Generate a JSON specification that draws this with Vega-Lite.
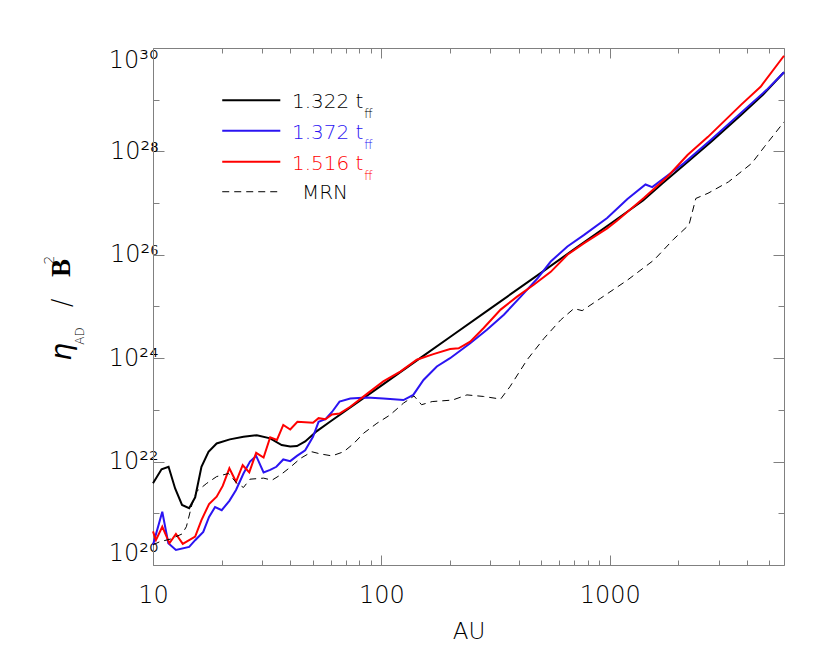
{
  "$schema": "https://vega.github.io/schema/vega-lite/v6.json",
  "width": 631,
  "height": 517,
  "autosize": {"type": "none"},
  "padding": {"left": 153, "top": 48, "right": 46, "bottom": 99},
  "background": "white",
  "config": {
    "view": {"stroke": null},
    "axis": {
      "domainColor": "#808080",
      "tickColor": "#808080",
      "grid": false,
      "labelFont": "DejaVu Sans",
      "labelFontWeight": 200,
      "labelColor": "#000000",
      "titleFont": "DejaVu Sans",
      "titleFontWeight": 200,
      "titleColor": "#000000"
    },
    "text": {"font": "DejaVu Sans", "fontWeight": 200}
  },
  "datasets": {
    "curves": [
      {"s": "1.322", "r": 10, "v": 3.8e21},
      {"s": "1.322", "r": 10.9, "v": 7.08e21},
      {"s": "1.322", "r": 11.7, "v": 7.94e21},
      {"s": "1.322", "r": 12.5, "v": 3.02e21},
      {"s": "1.322", "r": 13.4, "v": 1.45e21},
      {"s": "1.322", "r": 14.4, "v": 1.26e21},
      {"s": "1.322", "r": 15.3, "v": 2.04e21},
      {"s": "1.322", "r": 16.3, "v": 7.94e21},
      {"s": "1.322", "r": 17.5, "v": 1.55e22},
      {"s": "1.322", "r": 19.0, "v": 2.24e22},
      {"s": "1.322", "r": 21.7, "v": 2.69e22},
      {"s": "1.322", "r": 24.9, "v": 3.02e22},
      {"s": "1.322", "r": 28.5, "v": 3.24e22},
      {"s": "1.322", "r": 32.6, "v": 2.82e22},
      {"s": "1.322", "r": 36.6, "v": 2.09e22},
      {"s": "1.322", "r": 39.9, "v": 1.95e22},
      {"s": "1.322", "r": 42.7, "v": 2.0e22},
      {"s": "1.322", "r": 46.4, "v": 2.45e22},
      {"s": "1.322", "r": 52.2, "v": 3.89e22},
      {"s": "1.322", "r": 60, "v": 6.03e22},
      {"s": "1.322", "r": 80, "v": 1.48e23},
      {"s": "1.322", "r": 100, "v": 2.95e23},
      {"s": "1.322", "r": 150, "v": 1.05e24},
      {"s": "1.322", "r": 200, "v": 2.57e24},
      {"s": "1.322", "r": 300, "v": 9.12e24},
      {"s": "1.322", "r": 500, "v": 4.47e25},
      {"s": "1.322", "r": 700, "v": 1.29e26},
      {"s": "1.322", "r": 1000, "v": 3.89e26},
      {"s": "1.322", "r": 1400, "v": 1.12e27},
      {"s": "1.322", "r": 1700, "v": 2.4e27},
      {"s": "1.322", "r": 2200, "v": 6.31e27},
      {"s": "1.322", "r": 2800, "v": 1.58e28},
      {"s": "1.322", "r": 3750, "v": 5.01e28},
      {"s": "1.322", "r": 4700, "v": 1.26e29},
      {"s": "1.322", "r": 5800, "v": 3.39e29},

      {"s": "1.372", "r": 10, "v": 2.45e20},
      {"s": "1.372", "r": 10.98, "v": 1.07e21},
      {"s": "1.372", "r": 11.67, "v": 2.63e20},
      {"s": "1.372", "r": 12.6, "v": 1.95e20},
      {"s": "1.372", "r": 14.4, "v": 2.24e20},
      {"s": "1.372", "r": 15.3, "v": 3.02e20},
      {"s": "1.372", "r": 16.6, "v": 4.37e20},
      {"s": "1.372", "r": 17.6, "v": 8.51e20},
      {"s": "1.372", "r": 18.7, "v": 1.32e21},
      {"s": "1.372", "r": 20.0, "v": 1.15e21},
      {"s": "1.372", "r": 21.6, "v": 1.74e21},
      {"s": "1.372", "r": 23.1, "v": 2.82e21},
      {"s": "1.372", "r": 24.9, "v": 5.89e21},
      {"s": "1.372", "r": 26.6, "v": 1.0e22},
      {"s": "1.372", "r": 28.3, "v": 1.29e22},
      {"s": "1.372", "r": 30.5, "v": 6.17e21},
      {"s": "1.372", "r": 32.6, "v": 6.92e21},
      {"s": "1.372", "r": 34.7, "v": 7.94e21},
      {"s": "1.372", "r": 37.2, "v": 1.1e22},
      {"s": "1.372", "r": 39.9, "v": 1.02e22},
      {"s": "1.372", "r": 42.7, "v": 1.29e22},
      {"s": "1.372", "r": 46.4, "v": 1.66e22},
      {"s": "1.372", "r": 50.2, "v": 3.02e22},
      {"s": "1.372", "r": 53.1, "v": 5.89e22},
      {"s": "1.372", "r": 56.9, "v": 6.61e22},
      {"s": "1.372", "r": 60.8, "v": 9.12e22},
      {"s": "1.372", "r": 65.6, "v": 1.45e23},
      {"s": "1.372", "r": 73.1, "v": 1.66e23},
      {"s": "1.372", "r": 86.5, "v": 1.74e23},
      {"s": "1.372", "r": 102, "v": 1.66e23},
      {"s": "1.372", "r": 125, "v": 1.55e23},
      {"s": "1.372", "r": 138, "v": 1.95e23},
      {"s": "1.372", "r": 153, "v": 3.8e23},
      {"s": "1.372", "r": 175, "v": 6.92e23},
      {"s": "1.372", "r": 200, "v": 1.0e24},
      {"s": "1.372", "r": 245, "v": 1.95e24},
      {"s": "1.372", "r": 290, "v": 3.55e24},
      {"s": "1.372", "r": 344, "v": 6.92e24},
      {"s": "1.372", "r": 408, "v": 1.55e25},
      {"s": "1.372", "r": 484, "v": 3.55e25},
      {"s": "1.372", "r": 552, "v": 7.41e25},
      {"s": "1.372", "r": 653, "v": 1.45e26},
      {"s": "1.372", "r": 770, "v": 2.4e26},
      {"s": "1.372", "r": 975, "v": 5.13e26},
      {"s": "1.372", "r": 1196, "v": 1.2e27},
      {"s": "1.372", "r": 1435, "v": 2.29e27},
      {"s": "1.372", "r": 1536, "v": 2.04e27},
      {"s": "1.372", "r": 1727, "v": 3.02e27},
      {"s": "1.372", "r": 2111, "v": 5.89e27},
      {"s": "1.372", "r": 2770, "v": 1.66e28},
      {"s": "1.372", "r": 3745, "v": 5.5e28},
      {"s": "1.372", "r": 4870, "v": 1.55e29},
      {"s": "1.372", "r": 5800, "v": 3.39e29},

      {"s": "1.516", "r": 10, "v": 4.47e20},
      {"s": "1.516", "r": 10.3, "v": 3.02e20},
      {"s": "1.516", "r": 10.98, "v": 5.5e20},
      {"s": "1.516", "r": 11.8, "v": 2.63e20},
      {"s": "1.516", "r": 12.6, "v": 3.98e20},
      {"s": "1.516", "r": 13.5, "v": 2.57e20},
      {"s": "1.516", "r": 15.3, "v": 3.55e20},
      {"s": "1.516", "r": 16.3, "v": 7.41e20},
      {"s": "1.516", "r": 17.6, "v": 1.51e21},
      {"s": "1.516", "r": 19.0, "v": 2.09e21},
      {"s": "1.516", "r": 20.2, "v": 3.39e21},
      {"s": "1.516", "r": 21.6, "v": 7.41e21},
      {"s": "1.516", "r": 23.1, "v": 4.07e21},
      {"s": "1.516", "r": 24.7, "v": 8.51e21},
      {"s": "1.516", "r": 26.4, "v": 6.17e21},
      {"s": "1.516", "r": 28.3, "v": 1.48e22},
      {"s": "1.516", "r": 30.5, "v": 1.2e22},
      {"s": "1.516", "r": 32.6, "v": 2.95e22},
      {"s": "1.516", "r": 34.9, "v": 2.63e22},
      {"s": "1.516", "r": 37.2, "v": 5.13e22},
      {"s": "1.516", "r": 39.9, "v": 4.17e22},
      {"s": "1.516", "r": 42.9, "v": 5.89e22},
      {"s": "1.516", "r": 50.2, "v": 5.62e22},
      {"s": "1.516", "r": 53.1, "v": 6.92e22},
      {"s": "1.516", "r": 56.9, "v": 6.61e22},
      {"s": "1.516", "r": 60.8, "v": 8.13e22},
      {"s": "1.516", "r": 65.6, "v": 8.51e22},
      {"s": "1.516", "r": 73.1, "v": 1.15e23},
      {"s": "1.516", "r": 86.5, "v": 2.04e23},
      {"s": "1.516", "r": 102, "v": 3.55e23},
      {"s": "1.516", "r": 121, "v": 5.5e23},
      {"s": "1.516", "r": 143, "v": 9.33e23},
      {"s": "1.516", "r": 169, "v": 1.2e24},
      {"s": "1.516", "r": 200, "v": 1.51e24},
      {"s": "1.516", "r": 218, "v": 1.55e24},
      {"s": "1.516", "r": 245, "v": 2.09e24},
      {"s": "1.516", "r": 280, "v": 3.8e24},
      {"s": "1.516", "r": 333, "v": 8.71e24},
      {"s": "1.516", "r": 393, "v": 1.55e25},
      {"s": "1.516", "r": 465, "v": 2.63e25},
      {"s": "1.516", "r": 552, "v": 4.68e25},
      {"s": "1.516", "r": 653, "v": 1.0e26},
      {"s": "1.516", "r": 770, "v": 1.66e26},
      {"s": "1.516", "r": 975, "v": 3.24e26},
      {"s": "1.516", "r": 1076, "v": 4.57e26},
      {"s": "1.516", "r": 1411, "v": 1.26e27},
      {"s": "1.516", "r": 1790, "v": 3.24e27},
      {"s": "1.516", "r": 2192, "v": 8.51e27},
      {"s": "1.516", "r": 2695, "v": 1.91e28},
      {"s": "1.516", "r": 3758, "v": 7.94e28},
      {"s": "1.516", "r": 4580, "v": 1.78e29},
      {"s": "1.516", "r": 5800, "v": 7.08e29}
    ],
    "mrn": [
      {"r": 10, "v": 2.45e20},
      {"r": 10.7, "v": 2.82e20},
      {"r": 11.9, "v": 3.16e20},
      {"r": 13.4, "v": 3.98e20},
      {"r": 14.0, "v": 5.5e20},
      {"r": 14.8, "v": 1.45e21},
      {"r": 15.5, "v": 2.63e21},
      {"r": 17.2, "v": 3.8e21},
      {"r": 19.0, "v": 5.13e21},
      {"r": 21.4, "v": 5.89e21},
      {"r": 23.3, "v": 3.8e21},
      {"r": 24.9, "v": 3.16e21},
      {"r": 26.6, "v": 4.57e21},
      {"r": 30.5, "v": 4.79e21},
      {"r": 33.2, "v": 4.37e21},
      {"r": 36.1, "v": 5.5e21},
      {"r": 39.9, "v": 7.76e21},
      {"r": 44.2, "v": 1.15e22},
      {"r": 49.6, "v": 1.55e22},
      {"r": 54.0, "v": 1.41e22},
      {"r": 60.8, "v": 1.29e22},
      {"r": 68.4, "v": 1.55e22},
      {"r": 75.7, "v": 2.24e22},
      {"r": 83.7, "v": 3.55e22},
      {"r": 95.6, "v": 5.5e22},
      {"r": 109, "v": 7.94e22},
      {"r": 125, "v": 1.35e23},
      {"r": 139, "v": 1.86e23},
      {"r": 150, "v": 1.26e23},
      {"r": 167, "v": 1.45e23},
      {"r": 205, "v": 1.55e23},
      {"r": 237, "v": 1.95e23},
      {"r": 280, "v": 1.82e23},
      {"r": 333, "v": 1.62e23},
      {"r": 366, "v": 2.82e23},
      {"r": 435, "v": 9.33e23},
      {"r": 515, "v": 2.4e24},
      {"r": 610, "v": 5.5e24},
      {"r": 697, "v": 9.12e24},
      {"r": 758, "v": 8.32e24},
      {"r": 914, "v": 1.45e25},
      {"r": 1196, "v": 3.24e25},
      {"r": 1564, "v": 7.94e25},
      {"r": 1905, "v": 2.0e26},
      {"r": 2226, "v": 3.8e26},
      {"r": 2384, "v": 1.23e27},
      {"r": 2695, "v": 1.55e27},
      {"r": 3313, "v": 2.57e27},
      {"r": 4190, "v": 5.89e27},
      {"r": 4760, "v": 1.23e28},
      {"r": 5800, "v": 3.72e28}
    ],
    "legend": [
      {"s": "1.322", "label": "1.322 t", "x1": 20.1, "x2": 36.1, "xt": 40.6, "xf": 84.1, "y": 9.8e28},
      {"s": "1.372", "label": "1.372 t", "x1": 20.1, "x2": 36.1, "xt": 40.6, "xf": 84.1, "y": 2.51e28},
      {"s": "1.516", "label": "1.516 t", "x1": 20.1, "x2": 36.1, "xt": 40.6, "xf": 84.1, "y": 6.31e27}
    ],
    "legendMrn": [
      {"s": "MRN", "label": "MRN", "x1": 20.1, "x2": 36.1, "xt": 44.9, "y": 1.66e27}
    ]
  },
  "resolve": {"axis": {"x": "independent", "y": "independent"}},
  "layer": [
    {
      "data": {"name": "curves"},
      "mark": {"type": "line", "strokeWidth": 2},
      "encoding": {
        "x": {"field": "r", "type": "quantitative",
          "scale": {"type": "log", "domain": [10, 5800], "nice": false},
          "axis": {"orient": "bottom", "values": [10, 100, 1000], "labelExpr": "format(datum.value, 'd')",
            "tickSize": -10, "labelPadding": 28, "labelFontSize": 24, "labelFlush": false,
            "title": "AU", "titleFontSize": 23, "titlePadding": 13}},
        "y": {"field": "v", "type": "quantitative",
          "scale": {"type": "log", "domain": [1e20, 1e30], "nice": false},
          "axis": {"orient": "left", "values": [1e20, 1e22, 1e24, 1e26, 1e28, 1e30],
            "labelExpr": "datum.value == 1e20 ? '10²⁰' : datum.value == 1e22 ? '10²²' : datum.value == 1e24 ? '10²⁴' : datum.value == 1e26 ? '10²⁶' : datum.value == 1e28 ? '10²⁸' : '10³⁰'",
            "tickSize": -11, "labelPadding": 6, "labelFontSize": 24, "labelFlush": true, "title": null}},
        "color": {"field": "s", "type": "nominal",
          "scale": {"domain": ["1.322", "1.372", "1.516", "MRN"], "range": ["#000000", "#2b14f2", "#ff0000", "#000000"]},
          "legend": null}
      }
    },
    {
      "data": {"name": "mrn"},
      "mark": {"type": "line", "strokeWidth": 1, "strokeDash": [7, 5], "color": "#000000"},
      "encoding": {
        "x": {"field": "r", "type": "quantitative",
          "scale": {"type": "log", "domain": [10, 5800], "nice": false},
          "axis": {"orient": "bottom", "values": [20, 30, 40, 50, 60, 70, 80, 90, 200, 300, 400, 500, 600, 700, 800, 900, 2000, 3000, 4000, 5000],
            "labels": false, "domain": false, "tickSize": -5, "title": null}},
        "y": {"field": "v", "type": "quantitative",
          "scale": {"type": "log", "domain": [1e20, 1e30], "nice": false},
          "axis": {"orient": "left", "values": [1e21, 1e23, 1e25, 1e27, 1e29],
            "labels": false, "domain": false, "tickSize": -6, "title": null}}
      }
    },
    {
      "data": {"name": "legend"},
      "mark": {"type": "rule", "strokeWidth": 2},
      "encoding": {
        "x": {"field": "x1", "type": "quantitative",
          "scale": {"type": "log", "domain": [10, 5800], "nice": false},
          "axis": {"orient": "top", "values": [10, 100, 1000], "labels": false, "tickSize": -10, "title": null}},
        "x2": {"field": "x2"},
        "y": {"field": "y", "type": "quantitative",
          "scale": {"type": "log", "domain": [1e20, 1e30], "nice": false},
          "axis": {"orient": "right", "values": [1e20, 1e22, 1e24, 1e26, 1e28, 1e30], "labels": false, "tickSize": -11, "title": null}},
        "color": {"field": "s", "type": "nominal",
          "scale": {"domain": ["1.322", "1.372", "1.516", "MRN"], "range": ["#000000", "#2b14f2", "#ff0000", "#000000"]},
          "legend": null}
      }
    },
    {
      "data": {"name": "legendMrn"},
      "mark": {"type": "rule", "strokeWidth": 1, "strokeDash": [7, 5], "color": "#000000"},
      "encoding": {
        "x": {"field": "x1", "type": "quantitative",
          "scale": {"type": "log", "domain": [10, 5800], "nice": false},
          "axis": {"orient": "top", "values": [20, 30, 40, 50, 60, 70, 80, 90, 200, 300, 400, 500, 600, 700, 800, 900, 2000, 3000, 4000, 5000],
            "labels": false, "domain": false, "tickSize": -5, "title": null}},
        "x2": {"field": "x2"},
        "y": {"field": "y", "type": "quantitative",
          "scale": {"type": "log", "domain": [1e20, 1e30], "nice": false},
          "axis": {"orient": "right", "values": [1e21, 1e23, 1e25, 1e27, 1e29],
            "labels": false, "domain": false, "tickSize": -6, "title": null}}
      }
    },
    {
      "data": {"name": "legend"},
      "mark": {"type": "text", "align": "left", "baseline": "middle", "fontSize": 20, "dy": 2},
      "encoding": {
        "x": {"field": "xt", "type": "quantitative", "scale": {"type": "log", "domain": [10, 5800], "nice": false}, "axis": null},
        "y": {"field": "y", "type": "quantitative", "scale": {"type": "log", "domain": [1e20, 1e30], "nice": false}, "axis": null},
        "text": {"field": "label"},
        "color": {"field": "s", "type": "nominal",
          "scale": {"domain": ["1.322", "1.372", "1.516", "MRN"], "range": ["#000000", "#2b14f2", "#ff0000", "#000000"]},
          "legend": null}
      }
    },
    {
      "data": {"name": "legend"},
      "mark": {"type": "text", "align": "left", "baseline": "middle", "fontSize": 12, "dy": 14, "text": "ff"},
      "encoding": {
        "x": {"field": "xf", "type": "quantitative", "scale": {"type": "log", "domain": [10, 5800], "nice": false}, "axis": null},
        "y": {"field": "y", "type": "quantitative", "scale": {"type": "log", "domain": [1e20, 1e30], "nice": false}, "axis": null},
        "color": {"field": "s", "type": "nominal",
          "scale": {"domain": ["1.322", "1.372", "1.516", "MRN"], "range": ["#000000", "#2b14f2", "#ff0000", "#000000"]},
          "legend": null}
      }
    },
    {
      "data": {"name": "legendMrn"},
      "mark": {"type": "text", "align": "left", "baseline": "middle", "fontSize": 20, "dy": 1, "color": "#000000"},
      "encoding": {
        "x": {"field": "xt", "type": "quantitative", "scale": {"type": "log", "domain": [10, 5800], "nice": false}, "axis": null},
        "y": {"field": "y", "type": "quantitative", "scale": {"type": "log", "domain": [1e20, 1e30], "nice": false}, "axis": null},
        "text": {"field": "label"}
      }
    },
    {
      "data": {"values": [{"t": "η", "x": 4.05, "y": 1.32e24}]},
      "mark": {"type": "text", "angle": 270, "align": "center", "baseline": "middle", "fontSize": 28, "fontStyle": "italic", "fontWeight": 200, "color": "#000000"},
      "encoding": {
        "x": {"field": "x", "type": "quantitative", "scale": {"type": "log", "domain": [10, 5800], "nice": false}, "axis": null},
        "y": {"field": "y", "type": "quantitative", "scale": {"type": "log", "domain": [1e20, 1e30], "nice": false}, "axis": null},
        "text": {"field": "t"}
      }
    },
    {
      "data": {"values": [{"t": "AD", "x": 4.79, "y": 2.69e24}]},
      "mark": {"type": "text", "angle": 270, "align": "center", "baseline": "middle", "fontSize": 12, "color": "#000000"},
      "encoding": {
        "x": {"field": "x", "type": "quantitative", "scale": {"type": "log", "domain": [10, 5800], "nice": false}, "axis": null},
        "y": {"field": "y", "type": "quantitative", "scale": {"type": "log", "domain": [1e20, 1e30], "nice": false}, "axis": null},
        "text": {"field": "t"}
      }
    },
    {
      "data": {"values": [{"t": "/", "x": 4.03, "y": 1.17e25}]},
      "mark": {"type": "text", "angle": 270, "align": "center", "baseline": "middle", "fontSize": 26, "color": "#000000"},
      "encoding": {
        "x": {"field": "x", "type": "quantitative", "scale": {"type": "log", "domain": [10, 5800], "nice": false}, "axis": null},
        "y": {"field": "y", "type": "quantitative", "scale": {"type": "log", "domain": [1e20, 1e30], "nice": false}, "axis": null},
        "text": {"field": "t"}
      }
    },
    {
      "data": {"values": [{"t": "B", "x": 4.01, "y": 5.56e25}]},
      "mark": {"type": "text", "angle": 270, "align": "center", "baseline": "middle", "fontSize": 27, "font": "Liberation Serif", "fontWeight": "bold", "color": "#000000"},
      "encoding": {
        "x": {"field": "x", "type": "quantitative", "scale": {"type": "log", "domain": [10, 5800], "nice": false}, "axis": null},
        "y": {"field": "y", "type": "quantitative", "scale": {"type": "log", "domain": [1e20, 1e30], "nice": false}, "axis": null},
        "text": {"field": "t"}
      }
    },
    {
      "data": {"values": [{"t": "2", "x": 3.53, "y": 7.93e25}]},
      "mark": {"type": "text", "angle": 270, "align": "center", "baseline": "middle", "fontSize": 14, "color": "#000000"},
      "encoding": {
        "x": {"field": "x", "type": "quantitative", "scale": {"type": "log", "domain": [10, 5800], "nice": false}, "axis": null},
        "y": {"field": "y", "type": "quantitative", "scale": {"type": "log", "domain": [1e20, 1e30], "nice": false}, "axis": null},
        "text": {"field": "t"}
      }
    }
  ]
}
